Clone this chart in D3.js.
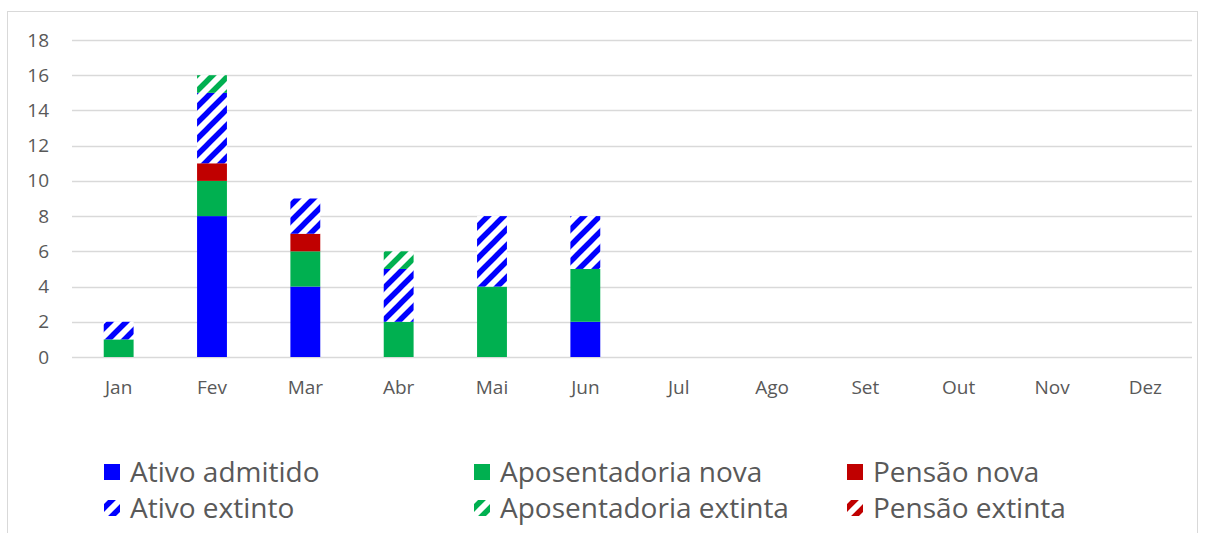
<!DOCTYPE html>
<html>
<head>
<meta charset="utf-8">
<script src="https://cdn.jsdelivr.net/npm/d3@7"></script>
<style>
  body { margin: 0; background: #fff; }
  svg text { font-family: "Open Sans", "Noto Sans", sans-serif; fill: #595959; }
</style>
</head>
<body>
<svg id="chart" width="1206" height="533"></svg>
<script>
// 데이터
var meses = ["Jan","Fev","Mar","Abr","Mai","Jun","Jul","Ago","Set","Out","Nov","Dez"];
var ativoAdmitido        = [0, 8, 4, 0, 0, 2, 0, 0, 0, 0, 0, 0];
var aposentadoriaNova    = [1, 2, 2, 2, 4, 3, 0, 0, 0, 0, 0, 0];
var pensaoNova           = [0, 1, 1, 0, 0, 0, 0, 0, 0, 0, 0, 0];
var ativoExtinto         = [1, 4, 2, 3, 4, 3, 0, 0, 0, 0, 0, 0];
var aposentadoriaExtinta = [0, 1, 0, 1, 0, 0, 0, 0, 0, 0, 0, 0];
var pensaoExtinta        = [0, 0, 0, 0, 0, 0, 0, 0, 0, 0, 0, 0];
var yTicks = [0, 2, 4, 6, 8, 10, 12, 14, 16, 18];

var series = [
  {key: "admitido", nome: "Ativo admitido", vals: ativoAdmitido, cor: "#0000ff", hatch: false},
  {key: "aposNova", nome: "Aposentadoria nova", vals: aposentadoriaNova, cor: "#00b050", hatch: false},
  {key: "pensNova", nome: "Pensão nova", vals: pensaoNova, cor: "#c00000", hatch: false},
  {key: "extinto", nome: "Ativo extinto", vals: ativoExtinto, cor: "#0000ff", hatch: true},
  {key: "aposExt", nome: "Aposentadoria extinta", vals: aposentadoriaExtinta, cor: "#00b050", hatch: true},
  {key: "pensExt", nome: "Pensão extinta", vals: pensaoExtinta, cor: "#c00000", hatch: true}
];

var svg = d3.select("#chart");

// 테두리
svg.append("rect")
  .attr("x", 7.5).attr("y", 11.5)
  .attr("width", 1190).attr("height", 540)
  .attr("fill", "none").attr("stroke", "#d9d9d9");

// 빗금 패턴
var defs = svg.append("defs");
series.filter(function(s){ return s.hatch; }).forEach(function(s){
  var p = defs.append("pattern")
    .attr("id", "hatch-" + s.key)
    .attr("patternUnits", "userSpaceOnUse")
    .attr("width", 16).attr("height", 16);
  p.append("rect").attr("width", 16).attr("height", 16).attr("fill", "#fff");
  p.append("path")
    .attr("d", "M-4,4 L4,-4 M0,16 L16,0 M12,20 L20,12")
    .attr("stroke", s.cor).attr("stroke-width", 5.5);
});

function fillOf(s){ return s.hatch ? "url(#hatch-" + s.key + ")" : s.cor; }

// 축과 척도
var x = d3.scaleBand().domain(meses).range([72, 1192]).paddingInner(0.68).paddingOuter(0.34);
var y = d3.scaleLinear().domain([0, 18]).range([357, 40]);

// 격자
svg.append("g").selectAll("line").data(yTicks).enter().append("line")
  .attr("x1", 72).attr("x2", 1192)
  .attr("y1", function(d){ return Math.round(y(d)) + 0.5; })
  .attr("y2", function(d){ return Math.round(y(d)) + 0.5; })
  .attr("stroke", "#d9d9d9").attr("stroke-width", 1.5);

// y 축
var yAxis = svg.append("g").attr("transform", "translate(57,0)")
  .call(d3.axisLeft(y).tickValues(yTicks).tickSize(0).tickPadding(8));
yAxis.select(".domain").remove();
yAxis.selectAll("text").style("font-size", "19px").attr("fill", "#595959");

// x 축
var xAxis = svg.append("g").attr("transform", "translate(0,380)")
  .call(d3.axisBottom(x).tickSize(0).tickPadding(0));
xAxis.select(".domain").remove();
xAxis.selectAll("text").style("font-size", "19px").attr("fill", "#595959");

// 누적 데이터
var rows = meses.map(function(m, i){
  var r = {mes: m};
  series.forEach(function(s){ r[s.key] = s.vals[i]; });
  return r;
});
var stacked = d3.stack().keys(series.map(function(s){ return s.key; }))(rows);

svg.append("g").selectAll("g").data(stacked).enter().append("g")
  .attr("fill", function(d, i){ return fillOf(series[i]); })
  .selectAll("rect").data(function(d){ return d; }).enter().append("rect")
  .attr("x", function(d){ return x(d.data.mes); })
  .attr("width", x.bandwidth())
  .attr("y", function(d){ return y(d[1]); })
  .attr("height", function(d){ return y(d[0]) - y(d[1]); });

// 범례
var legX = [104, 474, 847], legY = [472, 508];
var leg = svg.append("g").selectAll("g").data(series).enter().append("g")
  .attr("transform", function(d, i){ return "translate(" + legX[i % 3] + "," + legY[Math.floor(i / 3)] + ")"; });
leg.append("rect")
  .attr("x", 0).attr("y", -8).attr("width", 16).attr("height", 16)
  .attr("fill", function(d){ return fillOf(d); });
leg.append("text")
  .attr("x", 26).attr("y", 0).attr("dy", "0.35em")
  .style("font-size", "28px")
  .text(function(d){ return d.nome; });
</script>
</body>
</html>
